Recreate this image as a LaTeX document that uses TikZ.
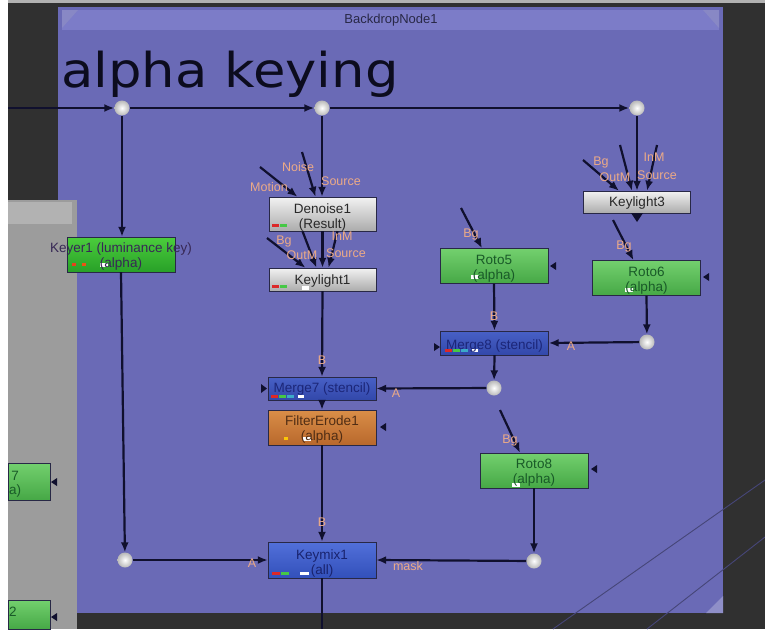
\documentclass[tikz,border=0pt]{standalone}
\usepackage{fontspec}
\setmainfont{Liberation Sans}
\newfontfamily\titlefont{DejaVu Sans}
\usetikzlibrary{arrows.meta,calc}

\definecolor{bgdark}{RGB}{48,48,48}
\definecolor{backdrop}{RGB}{106,106,182}
\definecolor{titlebar}{RGB}{124,124,200}
\definecolor{titletext}{RGB}{40,40,70}
\definecolor{headtext}{RGB}{12,12,30}
\definecolor{panel}{RGB}{156,156,156}
\definecolor{panellight}{RGB}{178,178,178}
\definecolor{wire}{RGB}{16,16,46}
\definecolor{farwire}{RGB}{70,70,120}
\definecolor{pinlabel}{RGB}{236,170,135}
\definecolor{nodeedge}{RGB}{40,40,70}
\definecolor{greyTop}{RGB}{242,242,242}
\definecolor{greyBot}{RGB}{172,172,172}
\definecolor{rotoTop}{RGB}{115,208,110}
\definecolor{rotoBot}{RGB}{70,168,70}
\definecolor{keyerTop}{RGB}{75,205,60}
\definecolor{keyerBot}{RGB}{40,160,40}
\definecolor{mergeTop}{RGB}{72,96,198}
\definecolor{mergeBot}{RGB}{50,72,170}
\definecolor{mixTop}{RGB}{82,112,218}
\definecolor{mixBot}{RGB}{50,80,186}
\definecolor{erodeTop}{RGB}{218,142,72}
\definecolor{erodeBot}{RGB}{184,104,44}
\definecolor{chred}{RGB}{220,40,40}
\definecolor{chgreen}{RGB}{70,200,70}
\definecolor{chblue}{RGB}{60,170,200}
\definecolor{txtgrey}{RGB}{40,40,40}
\definecolor{txtkeyer}{RGB}{55,40,85}
\definecolor{txtroto}{RGB}{25,90,40}
\definecolor{txtmerge}{RGB}{28,38,120}
\definecolor{txterode}{RGB}{80,45,20}
\definecolor{txtmix}{RGB}{25,35,110}

\tikzset{
  nbox/.style={rectangle, inner sep=0pt, draw=nodeedge,
    line width=0.4pt, minimum width=108pt, minimum height=#1},
  greynode/.style={nbox=#1, top color=greyTop, bottom color=greyBot},
  rotonode/.style={nbox=#1, top color=rotoTop, bottom color=rotoBot},
  keyernode/.style={nbox=#1, top color=keyerTop, bottom color=keyerBot},
  mergenode/.style={nbox=#1, top color=mergeTop, bottom color=mergeBot},
  mixnode/.style={nbox=#1, top color=mixTop, bottom color=mixBot},
  erodenode/.style={nbox=#1, top color=erodeTop, bottom color=erodeBot},
  ntext/.style={inner sep=0pt, align=center, font=\fontsize{13.5}{15}\selectfont},
  pin/.style={inner sep=0pt, text=pinlabel, font=\fontsize{12.5}{14}\selectfont},
  dot/.style={circle, inner sep=0pt, minimum size=15pt, draw=none,
    shading=radial, inner color=white, outer color=gray!55},
  edge/.style={draw=wire, line width=2.2pt, -{Latex[length=10pt,width=8pt]}},
  plain/.style={draw=wire, line width=2.2pt},
  tri/.style={fill=wire},
}

\begin{document}
\begin{tikzpicture}[x=1pt,y=-1pt]
\useasboundingbox (0,0) rectangle (765,629);
% canvas
\fill[white] (0,0) rectangle (765,629);
\fill[gray!60] (8,0) rectangle (765,3);
\fill[bgdark] (8,3) rectangle (765,629);

% backdrop node
\fill[backdrop] (58,7) rectangle (723,613);
\fill[titlebar] (62,10) rectangle (719,30);
\fill[backdrop!80!white] (62,10) -- (78,10) -- (62,28) -- cycle;
\fill[backdrop!80!white] (703,10) -- (719,10) -- (719,28) -- cycle;
\fill[backdrop!75!white] (723,596) -- (723,613) -- (706,613) -- cycle;
\node[inner sep=0pt, text=titletext,
  font=\fontsize{13}{13}\selectfont] (bdtitle) at (391,20) {BackdropNode1};
\node[inner sep=0pt, anchor=base west, text=headtext,
  font=\titlefont\fontsize{48}{48}\selectfont] (heading) at (61,87)
  {\scalebox{1.1}[1]{alpha keying}};

% wires crossing from outside
\draw[farwire, line width=0.9pt] (553,629) -- (765,480);
\draw[farwire, line width=0.9pt] (647,629) -- (765,537);

% side panel with clipped nodes
\fill[panel] (8,200) rectangle (77,629);
\fill[panellight] (8,202) rectangle (72,224);
\node[rotonode=37, minimum width=42pt] (rleftA) at (29,481.5) {};
\node[ntext, text=txtroto, anchor=west] (rleftAt) at (9,484) {7\\[-1pt]a)};
\node[rotonode=29, minimum width=42pt] (rleftB) at (29,614.5) {};
\node[ntext, text=txtroto, anchor=west] (rleftBt) at (9,612) {2};
\fill[tri] (51,482) -- (57,478) -- (57,486) -- cycle;
\fill[tri] (51,617) -- (57,613) -- (57,621) -- cycle;

% dots
\node[dot] (d1) at (122,108) {};
\node[dot] (d2) at (322,108) {};
\node[dot] (d3) at (637,108) {};
\node[dot] (d4) at (125,560) {};
\node[dot] (d5) at (647,342) {};
\node[dot] (d6) at (494,388) {};
\node[dot] (d7) at (534,561) {};
\coordinate (inL) at (8,108);
\coordinate (outB) at (322,629);

% nodes
\node[keyernode=35] (keyer) at (121,254.5) {};
\node[greynode=34, minimum width=107pt] (denoise) at (322.5,214) {};
\node[greynode=23, minimum width=107pt] (keylight1) at (322.5,279.5) {};
\node[mergenode=23] (merge7) at (322,388.5) {};
\node[erodenode=35] (erode) at (322,427.5) {};
\node[mixnode=36] (keymix) at (322,560) {};
\node[greynode=22, minimum width=107pt] (keylight3) at (637,202) {};
\node[rotonode=35] (roto5) at (494,266) {};
\node[rotonode=35] (roto6) at (646.5,278) {};
\node[mergenode=24] (merge8) at (494.5,343) {};
\node[rotonode=35] (roto8) at (534,470.5) {};

% free ends of input stubs
\coordinate (dnMotion) at (260,167);
\coordinate (dnNoise) at (302,152);
\coordinate (k1Bg) at (267,238);
\coordinate (k3Bg) at (583,160);
\coordinate (k3a) at (620,145);
\coordinate (k3b) at (657,145);
\coordinate (k3o) at (613,220);
\coordinate (r5in) at (461,208);
\coordinate (r8in) at (500,410);

% connectors
\draw[edge] (inL) -- (d1);
\draw[edge] (d1) -- (d2);
\draw[edge] (d2) -- (d3);
\draw[edge] (d1) -- (d1 |- keyer.north);
\draw[edge] (keyer.south) -- (d4);
\draw[edge] (d4) -- (keymix.west);
\draw[edge] (d2) -- (d2 |- denoise.north);
\draw[edge] (dnMotion) -- ([xshift=-25pt]denoise.north);
\draw[edge] (dnNoise) -- ([xshift=-7pt]denoise.north);
\draw[edge] (denoise.south) -- (keylight1.north);
\draw[edge] ([xshift=-20pt]denoise.south) -- ([xshift=-6pt]keylight1.north);
\draw[edge] ([xshift=15pt]denoise.south) -- ([xshift=6pt]keylight1.north);
\draw[edge] (k1Bg) -- ([xshift=-17pt]keylight1.north);
\draw[edge] (keylight1.south) -- (merge7.north);
\draw[edge] (d6) -- (merge7.east);
\draw[edge] (merge7.south) -- (erode.north);
\draw[edge] (erode.south) -- (keymix.north);
\draw[edge] (d7) -- (keymix.east);
\draw[plain] (keymix.south) -- (outB);
\draw[edge] (d3) -- (d3 |- keylight3.north);
\draw[edge] (k3Bg) -- ([xshift=-18pt]keylight3.north);
\draw[edge] (k3a) -- ([xshift=-5pt]keylight3.north);
\draw[edge] (k3b) -- ([xshift=10pt]keylight3.north);
\fill[tri] (631,213) -- (643,213) -- (637,222) -- cycle;
\draw[edge] (k3o) -- ([xshift=-13pt]roto6.north);
\draw[edge] (roto6.south) -- (d5);
\draw[edge] (d5) -- (merge8.east);
\draw[edge] (r5in) -- ([xshift=-12pt]roto5.north);
\draw[edge] (roto5.south) -- (merge8.north);
\draw[edge] (merge8.south) -- (d6);
\draw[edge] (r8in) -- ([xshift=-14pt]roto8.north);
\draw[edge] (roto8.south) -- (d7);

% mask input markers
\fill[tri] (550,266) -- (556,262) -- (556,270) -- cycle;
\fill[tri] (703,277) -- (709,273) -- (709,281) -- cycle;
\fill[tri] (591,469) -- (597,465) -- (597,473) -- cycle;
\fill[tri] (380,427) -- (386,423) -- (386,431) -- cycle;
\fill[tri] (261,384) -- (267,388.5) -- (261,393) -- cycle;
\fill[tri] (434,343) -- (440,347) -- (434,351) -- cycle;

% channel indicators
\fill[chred] (272,224) rectangle (279,227);
\fill[chgreen] (280,224) rectangle (287,227);
\fill[chred] (272,285) rectangle (279,288);
\fill[chgreen] (280,285) rectangle (287,288);
\fill[white] (302,286) rectangle (309,290);
\fill[chred] (271,395) rectangle (278,398);
\fill[chgreen] (279,395) rectangle (286,398);
\fill[chblue] (287,395) rectangle (294,398);
\fill[white] (298,395) rectangle (304,398);
\fill[chred] (445,349) rectangle (452,352);
\fill[chgreen] (453,349) rectangle (460,352);
\fill[chblue] (461,349) rectangle (468,352);
\fill[white] (472,349) rectangle (478,352);
\fill[chred] (272,572) rectangle (280,575);
\fill[chgreen] (281,572) rectangle (289,575);
\fill[white] (300,572) rectangle (309,575);
\fill[chred!70!orange] (72,263) rectangle (76,266);
\fill[chred!50!orange] (82,263) rectangle (86,266);
\fill[yellow!60!orange] (284,437) rectangle (288,440);
\fill[white] (100,263) rectangle (108,267);
\fill[white] (471,275) rectangle (479,279);
\fill[white] (625,288) rectangle (633,292);
\fill[white] (512,483) rectangle (520,487);
\fill[white] (303,437) rectangle (311,441);

% node titles
\node[ntext, text=txtkeyer] (keyerT) at (121,257) {Keyer1 (luminance key)\\(alpha)};
\node[ntext, text=txtgrey] (denoiseT) at (322.5,218) {Denoise1\\(Result)};
\node[ntext, text=txtgrey] (keylight1T) at (322.5,281) {Keylight1};
\node[ntext, text=txtmerge] (merge7T) at (322,389) {Merge7 (stencil)};
\node[ntext, text=txterode] (erodeT) at (322,430) {FilterErode1\\(alpha)};
\node[ntext, text=txtmix] (keymixT) at (322,563) {Keymix1\\(all)};
\node[ntext, text=txtgrey] (keylight3T) at (637,203) {Keylight3};
\node[ntext, text=txtroto] (roto5T) at (494,269) {Roto5\\(alpha)};
\node[ntext, text=txtroto] (roto6T) at (646.5,281) {Roto6\\(alpha)};
\node[ntext, text=txtmerge] (merge8T) at (494.5,346) {Merge8 (stencil)};
\node[ntext, text=txtroto] (roto8T) at (534,473) {Roto8\\(alpha)};

% input labels
\node[pin] (pNoise) at (298,167) {Noise};
\node[pin] (pSource1) at (341,181) {Source};
\node[pin] (pMotion) at (269,187) {Motion};
\node[pin] (pBg1) at (284,241) {Bg};
\node[pin] (pInM1) at (342,236) {InM};
\node[pin] (pOutM1) at (302,255) {OutM};
\node[pin] (pSource2) at (346,253) {Source};
\node[pin] (pBg3) at (601,162) {Bg};
\node[pin] (pInM3) at (654,157) {InM};
\node[pin] (pOutM3) at (615,177) {OutM};
\node[pin] (pSource3) at (657,175) {Source};
\node[pin] (pBg5) at (471,234) {Bg};
\node[pin] (pBg6) at (624,246) {Bg};
\node[pin] (pBg8) at (510,440) {Bg};
\node[pin] (pB1) at (322,360) {B};
\node[pin] (pA1) at (396,393) {A};
\node[pin] (pA2) at (571,346) {A};
\node[pin] (pB2) at (494,316) {B};
\node[pin] (pB3) at (322,522) {B};
\node[pin] (pA3) at (252,563) {A};
\node[pin] (pMask) at (408,566) {mask};
\end{tikzpicture}
\end{document}
